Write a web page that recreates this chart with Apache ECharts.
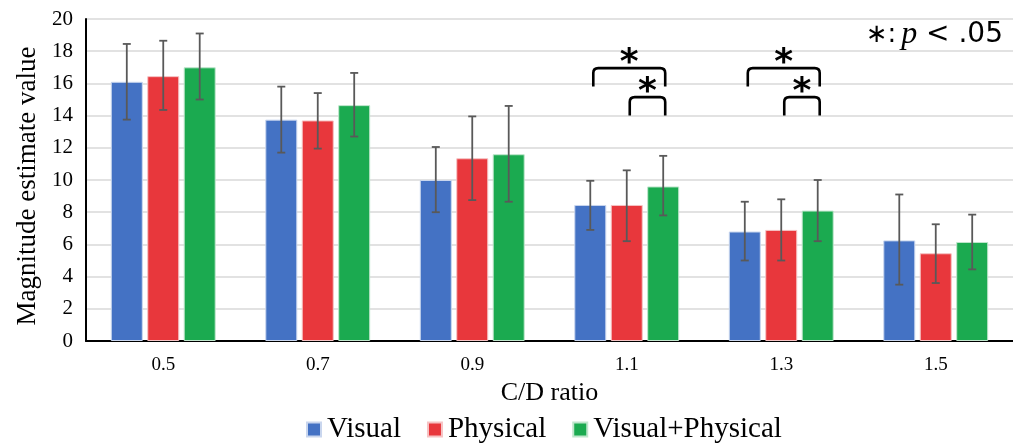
<!DOCTYPE html>
<html>
<head>
<meta charset="utf-8">
<script src="https://cdn.jsdelivr.net/npm/echarts@6/dist/echarts.min.js"></script>
<style>html,body{margin:0;padding:0;background:#fff}#c{width:1013px;height:446px}</style>
</head>
<body>
<div id="c"></div>
<script>
const categories = ['0.5', '0.7', '0.9', '1.1', '1.3', '1.5'];
const seriesNames = ['Visual', 'Physical', 'Visual+Physical'];
const visual = [16.1, 13.75, 10.0, 8.45, 6.8, 6.25];
const visualLow = [13.75, 11.7, 8.0, 6.9, 5.0, 3.5];
const visualHigh = [18.45, 15.8, 12.05, 9.95, 8.65, 9.1];
const physical = [16.45, 13.7, 11.35, 8.45, 6.9, 5.45];
const physicalLow = [14.35, 11.95, 8.75, 6.2, 5.0, 3.6];
const physicalHigh = [18.65, 15.4, 13.95, 10.6, 8.8, 7.25];
const combined = [17.0, 14.65, 11.6, 9.6, 8.1, 6.15];
const combinedLow = [15.0, 12.7, 8.65, 7.8, 6.2, 4.45];
const combinedHigh = [19.1, 16.65, 14.6, 11.5, 10.0, 7.85];
const yTicks = [0, 2, 4, 6, 8, 10, 12, 14, 16, 18, 20];
// significance brackets: [category index, from series, to series, top value, bottom value, star value]
const brackets = [
  [3, 0, 2, 16.95, 15.8, 17.25],
  [3, 1, 2, 15.15, 14.0, 15.4],
  [4, 0, 2, 16.95, 15.8, 17.25],
  [4, 1, 2, 15.15, 14.0, 15.4]
];

const colors = ['#4472C4', '#E8373C', '#1BAA50'];
const borders = ['#c9d6ee', '#f6c3c4', '#bfe6cc'];
const barFrac = 0.207, gapFrac = 0.14;
const values = [visual, physical, combined];
const lows = [visualLow, physicalLow, combinedLow];
const highs = [visualHigh, physicalHigh, combinedHigh];
const errData = [];
for (let s = 0; s < 3; s++) for (let i = 0; i < categories.length; i++) errData.push([i, s, lows[s][i], highs[s][i]]);

function barX(api, cat, s) {
  const c = api.coord([cat, 0]);
  const band = api.size([1, 0])[0];
  const bw = band * barFrac;
  return c[0] + (s - 1) * bw * (1 + gapFrac);
}

const serif = '"Liberation Serif", "Times New Roman", serif';
const barSeries = seriesNames.map((n, s) => ({
  name: n, type: 'bar', data: values[s],
  barWidth: (barFrac * 100) + '%', barGap: (gapFrac * 100) + '%',
  itemStyle: {color: colors[s], borderColor: borders[s], borderWidth: 1}
}));

const chart = echarts.init(document.getElementById('c'), null, {renderer: 'canvas'});
chart.setOption({
  animation: false,
  color: colors,
  grid: {left: 86, right: -6, top: 19, bottom: 105},
  legend: {
    bottom: -3, left: 301, itemWidth: 14, itemHeight: 14, itemGap: 26,
    icon: 'rect',
    textStyle: {fontFamily: serif, fontSize: 29, color: '#000', padding: [0, 0, 0, 1]},
    data: seriesNames
  },
  xAxis: {
    type: 'category', data: categories,
    name: 'C/D ratio', nameLocation: 'middle', nameGap: 34,
    nameTextStyle: {fontFamily: serif, fontSize: 26, color: '#000'},
    axisLine: {lineStyle: {color: '#000', width: 2}},
    axisTick: {show: false},
    axisLabel: {fontFamily: serif, fontSize: 19, color: '#000', margin: 15}
  },
  yAxis: {
    type: 'value', min: 0, max: 20, interval: 2,
    name: 'Magnitude estimate value', nameLocation: 'middle', nameGap: 45,
    nameTextStyle: {fontFamily: serif, fontSize: 27, color: '#000', padding: [0, 12, 0, 0]},
    axisLine: {show: true, lineStyle: {color: '#000', width: 2}},
    axisTick: {show: false},
    axisLabel: {fontFamily: serif, fontSize: 21, color: '#000', margin: 13,
      formatter: v => yTicks.includes(v) ? String(v) : ''},
    splitLine: {lineStyle: {color: '#d9d9d9', width: 1.5}}
  },
  series: barSeries.concat([
    {
      type: 'custom', name: 'err', data: errData, z: 10, silent: true,
      renderItem: function (params, api) {
        const cat = api.value(0), s = api.value(1);
        const x = barX(api, cat, s);
        const yl = api.coord([cat, api.value(2)])[1];
        const yh = api.coord([cat, api.value(3)])[1];
        const st = {stroke: '#595959', lineWidth: 1.8};
        const cw = 4;
        return {type: 'group', children: [
          {type: 'line', shape: {x1: x, y1: yl, x2: x, y2: yh}, style: st},
          {type: 'line', shape: {x1: x - cw, y1: yl, x2: x + cw, y2: yl}, style: st},
          {type: 'line', shape: {x1: x - cw, y1: yh, x2: x + cw, y2: yh}, style: st}
        ]};
      }
    },
    {
      type: 'custom', name: 'sig', data: brackets, z: 10, silent: true,
      renderItem: function (params, api) {
        const cat = api.value(0);
        const x1 = barX(api, cat, api.value(1)) + 3;
        const x2 = barX(api, cat, api.value(2)) + 2;
        const yt = api.coord([cat, api.value(3)])[1];
        const yb = api.coord([cat, api.value(4)])[1];
        const ys = api.coord([cat, api.value(5)])[1];
        const r = 5;
        const d = 'M' + x1 + ' ' + yb + ' L' + x1 + ' ' + (yt + r) + ' Q' + x1 + ' ' + yt + ' ' + (x1 + r) + ' ' + yt +
          ' L' + (x2 - r) + ' ' + yt + ' Q' + x2 + ' ' + yt + ' ' + x2 + ' ' + (yt + r) + ' L' + x2 + ' ' + yb;
        return {type: 'group', children: [
          {type: 'path', shape: {pathData: d}, style: {stroke: '#000', lineWidth: 2.6, fill: null}},
          {type: 'text', x: (x1 + x2) / 2, y: ys, style: {text: '*', fontSize: 36, fontWeight: 'bold',
            fontFamily: '"DejaVu Sans", sans-serif', fill: '#000', align: 'center', verticalAlign: 'middle'}}
        ]};
      }
    }
  ]),
  graphic: [{
    type: 'text', right: 10, top: 19,
    style: {
      text: '{s|∗:}{g| }{p|p}{n| < .05}',
      rich: {
        s: {fontFamily: '"DejaVu Sans", sans-serif', fontSize: 26, fill: '#000'},
        g: {fontFamily: serif, fontSize: 20, fill: '#000'},
        p: {fontFamily: serif, fontStyle: 'italic', fontSize: 32, fill: '#000'},
        n: {fontFamily: '"DejaVu Sans", sans-serif', fontSize: 28, fill: '#000'}
      }
    }
  }]
});
</script>
</body>
</html>
